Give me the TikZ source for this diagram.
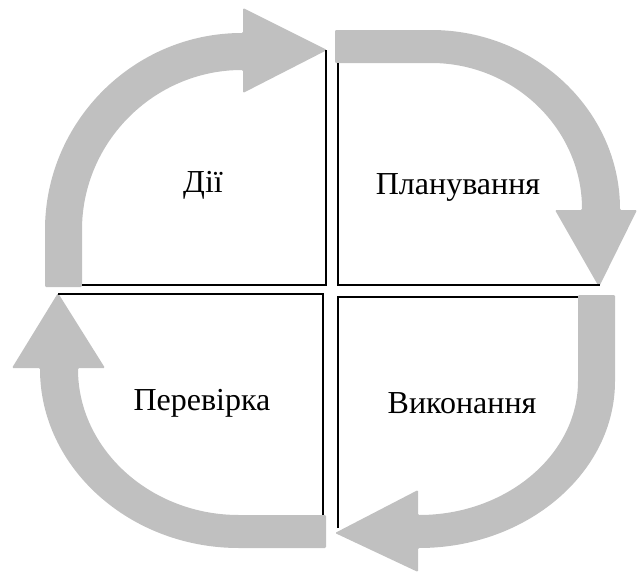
\documentclass[tikz,border=0pt]{standalone}
\usepackage{fontspec}
\setmainfont{Liberation Serif}
\definecolor{arrowgray}{RGB}{192,192,192}
\begin{document}
\begin{tikzpicture}[x=0.5pt, y=-0.5pt,
    band/.style={fill=arrowgray, draw=none, rounded corners=0.6pt},
    frame/.style={draw=black, line width=0.9pt},
    phase/.style={font=\fontsize{16}{19}\selectfont, inner sep=0pt}
  ]
    \useasboundingbox (0,0) rectangle (638,573);

    % Стрілки
    \fill[band] (45,287) -- (45,231)
      arc[start angle=180, end angle=270, x radius=198, y radius=198]
      -- (243,8) -- (327,50) -- (243,93) -- (243,70)
      arc[start angle=270, end angle=180, x radius=161, y radius=161]
      -- (82,287) -- cycle;
    \fill[band] (335,30) -- (430,30)
      arc[start angle=270, end angle=360, x radius=190, y radius=180]
      -- (637,210) -- (599,287) -- (555,210) -- (582,210)
      arc[start angle=360, end angle=270, x radius=152, y radius=147]
      -- (335,63) -- cycle;
    \fill[band] (578,295) -- (615,295) -- (615,380)
      arc[start angle=0, end angle=90, x radius=197, y radius=168]
      -- (418,572) -- (335,533) -- (418,490) -- (418,515)
      arc[start angle=90, end angle=0, x radius=160, y radius=135]
      -- cycle;
    \fill[band] (326,515) -- (326,548) -- (240,548)
      arc[start angle=90, end angle=180, x radius=200, y radius=180]
      -- (12,368) -- (58,293) -- (105,368) -- (78,368)
      arc[start angle=180, end angle=90, x radius=162, y radius=147]
      -- cycle;

    % Квадранти
    \draw[frame] (82,285) -- (326,285) -- (326,50);
    \draw[frame] (338,63) -- (338,285) -- (600,285);
    \draw[frame] (58,294) -- (323,294) -- (323,515);
    \draw[frame] (338,528) -- (338,297) -- (578,297);

    % Етапи
    \node[phase] (dii) at (203,185) {Дії};
    \node[phase] (plan) at (458,187) {Планування};
    \node[phase] (check) at (202,403) {Перевірка};
    \node[phase] (exec) at (462,403) {Виконання};
  \end{tikzpicture}
\end{document}
